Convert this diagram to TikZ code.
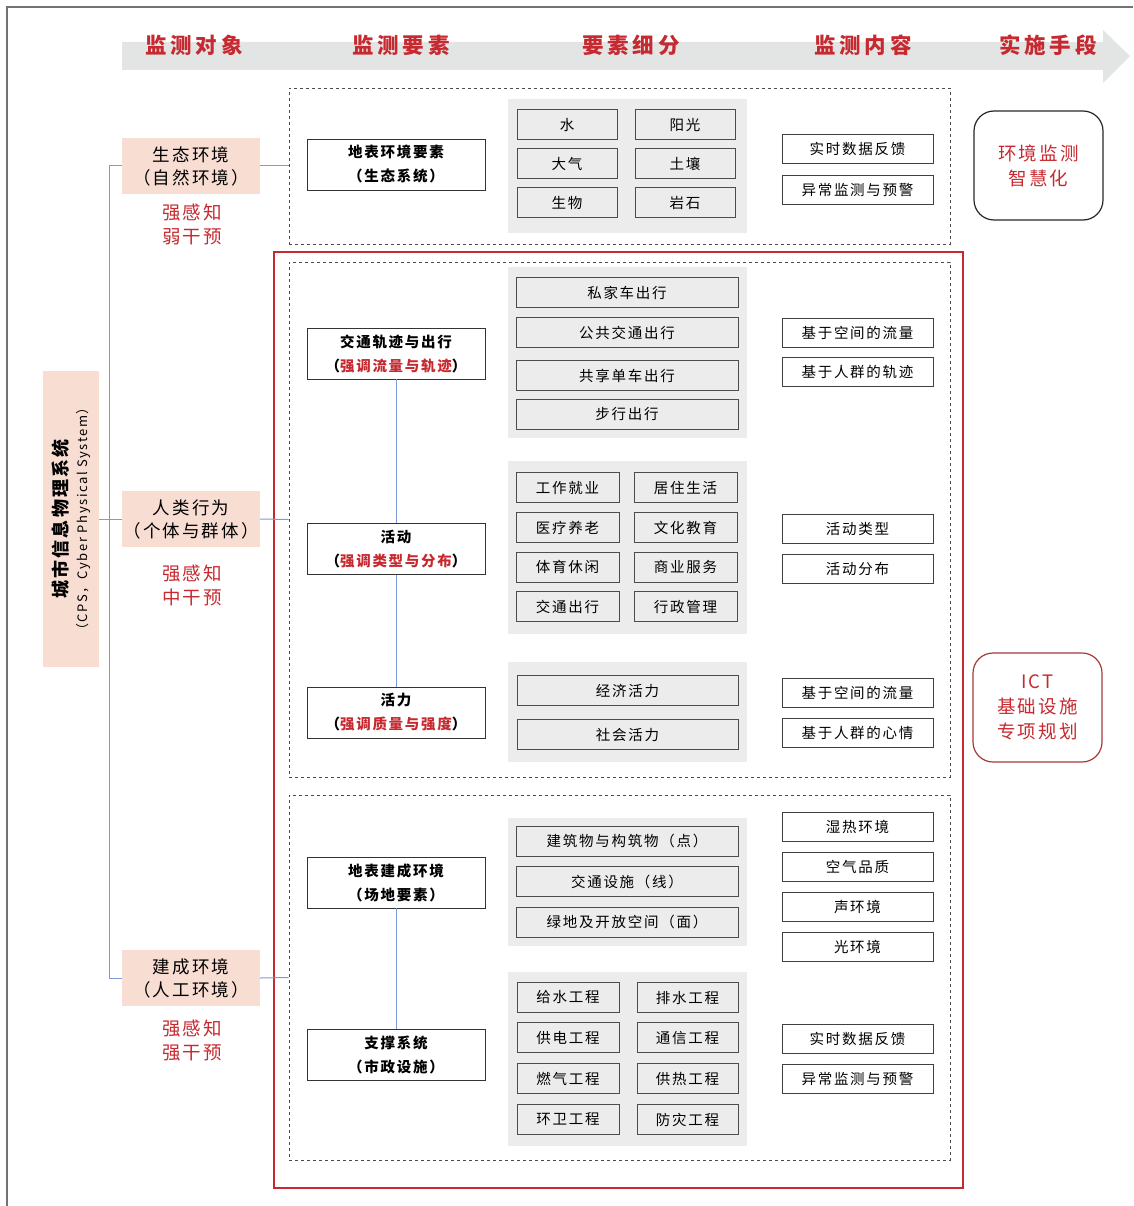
\documentclass[tikz,border=0pt]{standalone}
\usepackage{fontspec}
\setmainfont[LetterSpace=12]{Noto Sans CJK SC}
\newfontfamily\testafont[LetterSpace=18]{Noto Sans CJK SC}
\definecolor{rosso}{HTML}{C62A30}
\definecolor{rossoscuro}{HTML}{A33A3A}
\definecolor{rosa}{HTML}{F8DDD3}
\definecolor{fascia}{HTML}{E3E4E4}
\definecolor{grigio}{HTML}{ECECEC}
\definecolor{blu}{HTML}{7B9BD8}

\begin{document}
\begin{tikzpicture}[x=1pt,y=-1pt,
    testa/.style={font=\testafont\fontsize{21.5}{24}\selectfont\bfseries, text=rosso},
    oggetto/.style={fill=rosa, minimum width=138, minimum height=56, inner sep=0, align=center, font=\fontsize{17.5}{23}\selectfont},
    forza/.style={align=center, text=rosso, font=\fontsize{18.5}{24}\selectfont},
    tratteggio/.style={draw=black!70, dashed, line width=0.8, inner sep=0},
    gruppo/.style={fill=grigio, inner sep=0},
    elemento/.style={draw=black!80, fill=white, line width=0.9, minimum width=178, minimum height=51, inner sep=0, align=center, font=\fontsize{14.5}{24}\selectfont\bfseries},
    voce/.style={draw=black!70, fill=grigio, line width=1, minimum height=30, inner sep=0, font=\fontsize{14.5}{17}\selectfont},
    contenuto/.style={draw=black!75, fill=white, line width=0.9, minimum width=151, minimum height=29, inner sep=0, font=\fontsize{14.5}{17}\selectfont},
    mezzo/.style={draw, rounded corners=20, line width=1.2, minimum width=129, minimum height=109, inner sep=0, align=center, text=rosso, font=\fontsize{18.5}{25}\selectfont},
    ramo/.style={draw=blu, line width=1}]
  \useasboundingbox (0,0) rectangle (1133,1206); % pagina
  \draw[black!55, line width=1.2] (7,1206) -- (7,7) -- (1133,7); % cornice
  \fill[fascia] (122,42) -- (1103,42) -- (1103,30) -- (1130,56) -- (1103,83) -- (1103,70) -- (122,70) -- cycle; % freccia di testa
  \node[testa] (t1) at (194,45) {监测对象};
  \node[testa] (t2) at (401,45) {监测要素};
  \node[testa] (t3) at (631,45) {要素细分};
  \node[testa] (t4) at (863,45) {监测内容};
  \node[testa] (t5) at (1048,45) {实施手段};

  % riquadri tratteggiati e riquadro rosso
  \node[draw=rosso, line width=1.6, minimum width=689, minimum height=936, inner sep=0] (rosso) at (618.5,720) {};
  \node[tratteggio, minimum width=661, minimum height=156] (d1) at (619.5,166) {};
  \node[tratteggio, minimum width=661, minimum height=515] (d2) at (619.5,519.5) {};
  \node[tratteggio, minimum width=661, minimum height=365] (d3) at (619.5,977.5) {};

  % oggetti di monitoraggio
  \node[oggetto, minimum width=56, minimum height=296] (cps) at (71,519) {};
  \node[rotate=90, align=center, font=\fontsize{18}{21}\selectfont\bfseries] (cpst) at (71,519) {城市信息物理系统\\[-1pt]{\mdseries\fontsize{13}{16}\selectfont（CPS，Cyber Physical System）}};
  \node[oggetto] (eco) at (191,166) {生态环境\\（自然环境）};
  \node[oggetto] (umano) at (191,519) {人类行为\\（个体与群体）};
  \node[oggetto] (costr) at (191,978) {建成环境\\（人工环境）};
  \node[forza] (f1) at (192,224) {强感知\\弱干预};
  \node[forza] (f2) at (192,585) {强感知\\中干预};
  \node[forza] (f3) at (192,1041) {强感知\\强干预};
  \draw[ramo] (cps.east) -- (umano.west);
  \draw[ramo] (eco.west) -- ++(-12,0) |- (costr.west); % tronco dell'albero
  \draw[ramo] (eco.east) -- (d1.west);
  \draw[ramo] (umano.east) -- (d2.west);
  \draw[ramo] (costr.east) -- (d3.west);

  % elementi di monitoraggio
  \node[elemento] (ambiente) at (396,164.5) {地表环境要素\\（生态系统）};
  \node[elemento] (traffico) at (396,353.5) {交通轨迹与出行\\（\textcolor{rosso}{强调流量与轨迹}）};
  \node[elemento] (attivita) at (396,549) {活动\\（\textcolor{rosso}{强调类型与分布}）};
  \node[elemento] (vitalita) at (396,712.5) {活力\\（\textcolor{rosso}{强调质量与强度}）};
  \node[elemento] (edificato) at (396,882.5) {地表建成环境\\（场地要素）};
  \node[elemento] (supporto) at (396,1054.5) {支撑系统\\（市政设施）};
  \draw[ramo] (traffico.south) -- (attivita.north);
  \draw[ramo] (attivita.south) -- (vitalita.north);
  \draw[ramo] (edificato.south) -- (supporto.north);

  % suddivisione degli elementi
  \node[gruppo, minimum width=239, minimum height=134] (g1) at (627.5,166) {};
  \node[voce, minimum width=100] (acqua) at (567,125) {水};
  \node[voce, minimum width=100] (sole) at (685,125) {阳光};
  \node[voce, minimum width=100] (aria) at (567,164) {大气};
  \node[voce, minimum width=100] (suolo) at (685,164) {土壤};
  \node[voce, minimum width=100] (bio) at (567,203) {生物};
  \node[voce, minimum width=100] (roccia) at (685,203) {岩石};

  \node[gruppo, minimum width=239, minimum height=171] (g2) at (627.5,352.5) {};
  \node[voce, minimum width=222] (auto) at (627,292.5) {私家车出行};
  \node[voce, minimum width=222] (pubblico) at (627,332.5) {公共交通出行};
  \node[voce, minimum width=222] (bici) at (627,375.5) {共享单车出行};
  \node[voce, minimum width=222] (piedi) at (627,414.5) {步行出行};

  \node[gruppo, minimum width=239, minimum height=173] (g3) at (627.5,547.5) {};
  \node[voce, minimum width=103] (lavoro) at (567.5,487.5) {工作就业};
  \node[voce, minimum width=103] (casa) at (685.5,487.5) {居住生活};
  \node[voce, minimum width=103] (sanita) at (567.5,527.5) {医疗养老};
  \node[voce, minimum width=103] (cultura) at (685.5,527.5) {文化教育};
  \node[voce, minimum width=103] (sport) at (567.5,567) {体育休闲};
  \node[voce, minimum width=103] (commercio) at (685.5,567) {商业服务};
  \node[voce, minimum width=103] (viaggio) at (567.5,606.5) {交通出行};
  \node[voce, minimum width=103] (ammin) at (685.5,606.5) {行政管理};

  \node[gruppo, minimum width=239, minimum height=100] (g4) at (627.5,712) {};
  \node[voce, minimum width=221] (economia) at (627.5,690.5) {经济活力};
  \node[voce, minimum width=221] (societa) at (627.5,734.5) {社会活力};

  \node[gruppo, minimum width=239, minimum height=128] (g5) at (627.5,882) {};
  \node[voce, minimum width=222] (punto) at (627,841) {建筑物与构筑物（点）};
  \node[voce, minimum width=222] (linea) at (627,881.5) {交通设施（线）};
  \node[voce, minimum width=222] (area) at (627,922) {绿地及开放空间（面）};

  \node[gruppo, minimum width=239, minimum height=174] (g6) at (627.5,1059) {};
  \node[voce, minimum width=102] (acquedotto) at (568,997.5) {给水工程};
  \node[voce, minimum width=101] (fognatura) at (687.5,997.5) {排水工程};
  \node[voce, minimum width=102] (elettrico) at (568,1037.5) {供电工程};
  \node[voce, minimum width=101] (telecom) at (687.5,1037.5) {通信工程};
  \node[voce, minimum width=102] (gas) at (568,1078.5) {燃气工程};
  \node[voce, minimum width=101] (calore) at (687.5,1078.5) {供热工程};
  \node[voce, minimum width=102] (rifiuti) at (568,1119.5) {环卫工程};
  \node[voce, minimum width=101] (disastri) at (687.5,1119.5) {防灾工程};

  % contenuti di monitoraggio
  \node[contenuto] (c1) at (857.5,148.5) {实时数据反馈};
  \node[contenuto] (c2) at (857.5,189.5) {异常监测与预警};
  \node[contenuto] (c3) at (857.5,332.5) {基于空间的流量};
  \node[contenuto] (c4) at (857.5,371.5) {基于人群的轨迹};
  \node[contenuto] (c5) at (857.5,528.5) {活动类型};
  \node[contenuto] (c6) at (857.5,568.5) {活动分布};
  \node[contenuto] (c7) at (857.5,692.5) {基于空间的流量};
  \node[contenuto] (c8) at (857.5,732.5) {基于人群的心情};
  \node[contenuto] (c9) at (857.5,826.5) {湿热环境};
  \node[contenuto] (c10) at (857.5,866.5) {空气品质};
  \node[contenuto] (c11) at (857.5,906.5) {声环境};
  \node[contenuto] (c12) at (857.5,946.5) {光环境};
  \node[contenuto] (c13) at (857.5,1038.5) {实时数据反馈};
  \node[contenuto] (c14) at (857.5,1078.5) {异常监测与预警};

  % mezzi di attuazione
  \node[mezzo, draw=black!85] (smart) at (1038.5,165.5) {环境监测\\智慧化};
  \node[mezzo, draw=rossoscuro] (ict) at (1037.5,707.5) {ICT\\基础设施\\专项规划};
\end{tikzpicture}
\end{document}
